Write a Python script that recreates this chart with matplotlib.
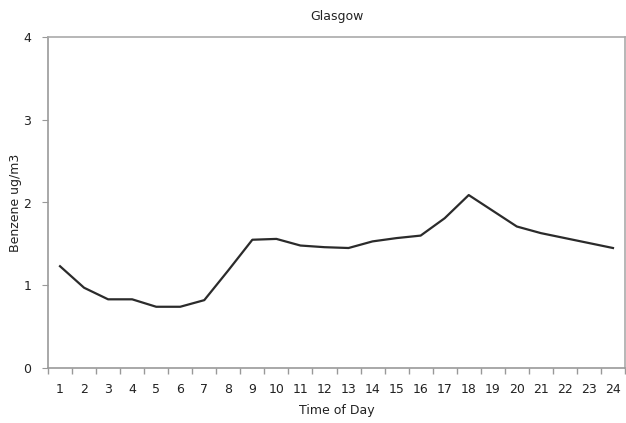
import matplotlib
matplotlib.use("Agg")
import matplotlib.pyplot as plt
import numpy as np

hours = list(range(1, 25))
benzene = [1.23, 0.97, 0.83, 0.83, 0.74, 0.74, 0.82, 1.18, 1.55, 1.56, 1.48, 1.46,
           1.45, 1.53, 1.57, 1.60, 1.81, 2.09, 1.90, 1.71, 1.63, 1.57, 1.51, 1.45]
yticks = [0, 1, 2, 3, 4]

fig = plt.figure(figsize=(6.26, 4.23), dpi=100)
ax = fig.add_axes([48/626, 1-368/423, (625-48)/626, (368-37)/423])
ax.plot(hours, benzene, color="#2b2b2b", lw=1.6)
ax.set_xlim(0.5, 24.5)
ax.set_ylim(0, 4)
ax.set_yticks(yticks)
ax.set_xticks(hours)
ax.set_xticks(np.arange(0.5, 25, 1), minor=True)
ax.tick_params(axis="x", which="major", length=0, pad=11, labelsize=9, colors="#222")
ax.tick_params(axis="x", which="minor", length=4, color="#999", width=1)
ax.tick_params(axis="y", length=4, color="#999", labelsize=9, labelcolor="#222", pad=8)
for s in ax.spines.values():
    s.set_color("#aaaaaa")
    s.set_linewidth(1.2)
ax.spines["left"].set_color("#999999")
ax.spines["bottom"].set_color("#999999")
ax.set_xlabel("Time of Day", fontsize=9, color="#222")
ax.xaxis.set_label_coords(0.5, -36/331)
ax.set_ylabel("Benzene ug/m3", fontsize=9, color="#222")
ax.yaxis.set_label_coords(-26/577, 0.5)
ax.set_title("Glasgow", fontsize=9, color="#222", pad=12)
fig.savefig("out.png", dpi=100)
